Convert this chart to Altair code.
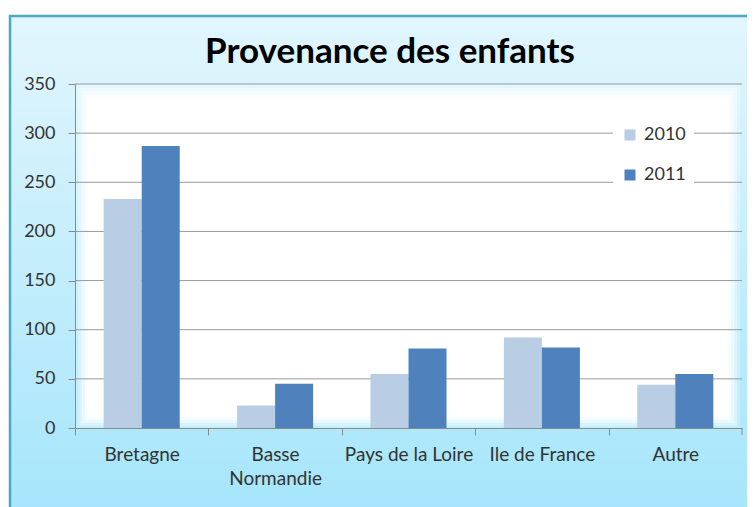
import altair as alt
import pandas as pd

regions = ["Bretagne", "Basse Normandie", "Pays de la Loire", "Ile de France", "Autre"]
v2010 = [233, 23, 55, 92, 44]
v2011 = [287, 45, 81, 82, 55]
years = ["2010", "2011"]
y_ticks = [0, 50, 100, 150, 200, 250, 300, 350]
title_text = "Provenance des enfants"

W, H = 667, 344
FONT = "Lato"
TXT = "#333333"
AX = "#8a8a8a"

rows = []
for r, a, b in zip(regions, v2010, v2011):
    rows.append({"region": r, "year": years[0], "value": a})
    rows.append({"region": r, "year": years[1], "value": b})
df = pd.DataFrame(rows)
grid_df = pd.DataFrame({"v": y_ticks[1:]})
one = pd.DataFrame({"k": [0]})

frame = alt.Chart(one).mark_rect(
    fill=alt.LinearGradient(
        gradient="linear", x1=0, y1=0, x2=0, y2=1,
        stops=[alt.GradientStop(offset=0, color="#e2f6fd"),
               alt.GradientStop(offset=1, color="#a4e5fb")]),
    stroke="#4aa8c4", strokeWidth=2.5,
).encode(x=alt.value(-65), x2=alt.value(700), y=alt.value(-68), y2=alt.value(440))

glows = []
for inset, op in [(0, 0.25), (3, 0.35), (6, 0.45), (9, 0.6), (12, 1.0)]:
    glows.append(alt.Chart(one).mark_rect(fill="white", opacity=op).encode(
        x=alt.value(inset + 1), x2=alt.value(W - 14 - inset + 12),
        y=alt.value(inset + 1), y2=alt.value(H - 11 - inset + 12)))

grid = alt.Chart(grid_df).mark_rule(color="#9a9a9a", strokeWidth=1).encode(
    y=alt.Y("v:Q", scale=alt.Scale(domain=[0, 350])),
    x=alt.value(0), x2=alt.value(W))

bars = alt.Chart(df).mark_bar().encode(
    x=alt.X("region:N", sort=regions, title=None,
            scale=alt.Scale(paddingInner=0.43, paddingOuter=0.215),
            axis=alt.Axis(tickOffset=-W / 10, labelOffset=W / 10, labelAngle=0,
                          labelFont=FONT, labelFontSize=19, labelColor=TXT,
                          labelPadding=10, labelLineHeight=24,
                          labelExpr="datum.value == 'Basse Normandie' ? ['Basse', 'Normandie'] : datum.value",
                          tickSize=7, tickColor=AX, domainColor=AX, zindex=1)),
    xOffset=alt.XOffset("year:N", sort=years),
    y=alt.Y("value:Q", title=None,
            scale=alt.Scale(domain=[0, 350]),
            axis=alt.Axis(values=y_ticks, grid=False, tickSize=7, tickColor=AX,
                          domainColor=AX, labelFont=FONT, labelFontSize=18,
                          labelColor=TXT, labelPadding=13, zindex=1)),
    color=alt.Color("year:N", sort=years,
                    scale=alt.Scale(domain=years, range=["#b9cde5", "#4f81bd"]),
                    legend=alt.Legend(title=None, orient="none", legendX=538, legendY=34,
                                      symbolType="square", symbolSize=121,
                                      symbolStrokeWidth=0, labelFont=FONT,
                                      labelFontSize=18, labelColor=TXT,
                                      rowPadding=22, padding=8, fillColor="white",
                                      labelOffset=5)),
)

last_tick = alt.Chart(one).mark_rule(color=AX).encode(
    x=alt.value(W), y=alt.value(H), y2=alt.value(H + 7))

title = alt.Chart(one).mark_text(
    text=title_text, font=FONT, fontSize=35, fontWeight="bold", color="black",
    align="center", baseline="alphabetic",
).encode(x=alt.value(315), y=alt.value(-21))

chart = alt.layer(frame, *glows, grid, bars, last_tick, title).properties(
    width=W, height=H,
    autosize=alt.AutoSizeParams(type="none"),
    padding={"left": 67, "top": 76, "right": 5, "bottom": 79},
    background="white",
).configure_view(stroke=None)

chart.save("out.html", embed_options={"renderer": "svg", "actions": False})
